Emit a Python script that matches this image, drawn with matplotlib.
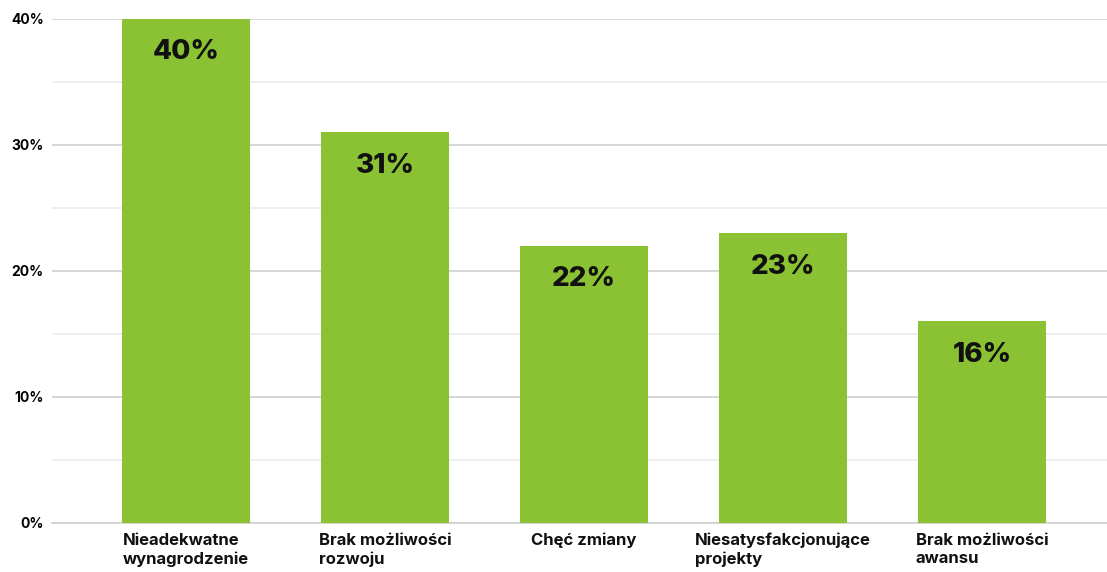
import matplotlib.pyplot as plt
from matplotlib.ticker import MultipleLocator, FuncFormatter

# powody odejścia z pracy (% odpowiedzi)
categories = ['Nieadekwatne\nwynagrodzenie', 'Brak możliwości\nrozwoju', 'Chęć zmiany',
              'Niesatysfakcjonujące\nprojekty', 'Brak możliwości\nawansu']
values = [40, 31, 22, 23, 16]

plt.rcParams['font.family'] = ['Inter', 'DejaVu Sans']

W, H = 1107, 572
fig = plt.figure(figsize=(W / 100, H / 100), dpi=100)
ax = fig.add_axes([52 / W, (H - 523) / H, (W - 52) / W, (523 - 19) / H])

x = range(len(categories))
ax.bar(x, values, width=0.643, color='#8AC234', zorder=3)

for xi, v in zip(x, values):
    ax.annotate(f'{v}%', (xi, v), xytext=(0, -24), textcoords='offset points',
                ha='center', va='center', fontsize=20, fontweight='heavy',
                color='#111111', zorder=4)

ax.set_xlim(-0.673, 4.628)
ax.set_ylim(0, 40)
ax.yaxis.set_major_locator(MultipleLocator(10))
ax.yaxis.set_minor_locator(MultipleLocator(5))
ax.yaxis.set_major_formatter(FuncFormatter(lambda v, p: f'{v:.0f}%'))
ax.grid(axis='y', which='major', color='#cfcfcf', linewidth=1.2, zorder=0)
ax.grid(axis='y', which='minor', color='#ececec', linewidth=1.2, zorder=0)

for s in ['top', 'right', 'left']:
    ax.spines[s].set_visible(False)
ax.spines['bottom'].set_color('#cfcfcf')
ax.spines['bottom'].set_linewidth(1.2)

ax.tick_params(axis='y', which='both', length=0, pad=6, labelsize=10)
ax.tick_params(axis='x', length=0, pad=7, labelsize=12)
for lbl in ax.get_yticklabels():
    lbl.set_fontweight('bold')
ax.set_xticks(list(x))
ax.set_xticklabels(categories, fontweight='bold', color='#111111',
                   ha='center', multialignment='left', linespacing=1.3)

fig.savefig('out.png', dpi=100)
